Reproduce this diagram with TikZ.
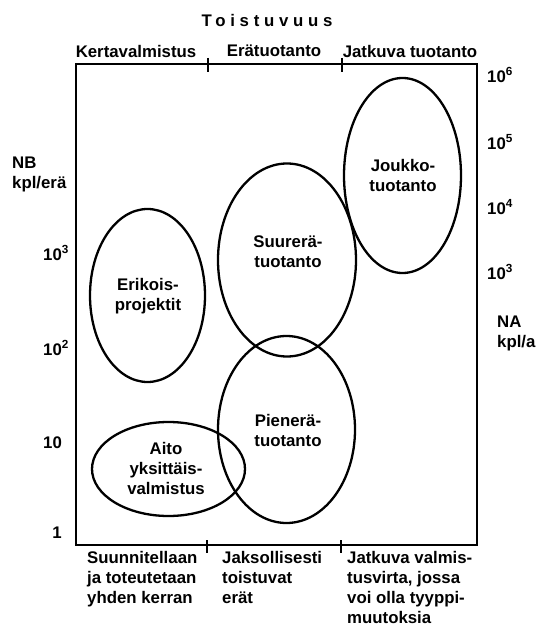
\documentclass[tikz,border=0pt]{standalone}
\usepackage{fontspec}
\setmainfont{Liberation Sans}
\newfontfamily\trackedfont[LetterSpace=28]{Liberation Sans}
\usetikzlibrary{shapes.geometric}

\tikzset{
  lbl/.style={font=\fontsize{16.8}{20}\selectfont\bfseries, inner sep=0pt, align=left},
  ctr/.style={font=\fontsize{16.8}{20}\selectfont\bfseries, inner sep=0pt, align=center},
  region/.style={draw, ellipse, line width=2.3pt, inner sep=0pt},
  frame/.style={line width=2.3pt},
  tick/.style={line width=2pt}
}

\begin{document}
\begin{tikzpicture}[x=1pt, y=-1pt]
  \useasboundingbox[fill=white] (0,0) rectangle (536,628);

  % title and column headings
  \node[ctr] (title) at (267,20) {\trackedfont\bfseries Toistuvuus};
  \node[ctr] (hKerta) at (136,51) {Kertavalmistus};
  \node[ctr] (hEra) at (274,51) {Erätuotanto};
  \node[ctr] (hJatk) at (410,51) {Jatkuva tuotanto};

  % frame
  \coordinate (tl) at (76,64);
  \coordinate (br) at (477,545);
  \draw[frame] (tl) rectangle (br);

  % column separators
  \coordinate (t1a) at (208,58);  \coordinate (t1b) at (208,72);
  \coordinate (t2a) at (342,58);  \coordinate (t2b) at (342,72);
  \coordinate (b1a) at (207,540); \coordinate (b1b) at (207,553);
  \coordinate (b2a) at (341,540); \coordinate (b2b) at (341,553);
  \draw[tick] (t1a) -- (t1b);
  \draw[tick] (t2a) -- (t2b);
  \draw[tick] (b1a) -- (b1b);
  \draw[tick] (b2a) -- (b2b);

  % left scale: NB
  \node[lbl, anchor=west] (nb) at (12,174) {NB\\kpl/erä};
  \node[lbl, anchor=west] (l3) at (43,253) {10\textsuperscript{3}};
  \node[lbl, anchor=west] (l2) at (43,348) {10\textsuperscript{2}};
  \node[lbl, anchor=west] (l1) at (43,443) {10};
  \node[lbl, anchor=east] (l0) at (62,533) {1};

  % right scale: NA
  \node[lbl, anchor=west] (r6) at (487,75) {10\textsuperscript{6}};
  \node[lbl, anchor=west] (r5) at (487,142) {10\textsuperscript{5}};
  \node[lbl, anchor=west] (r4) at (487,207) {10\textsuperscript{4}};
  \node[lbl, anchor=west] (r3) at (487,272) {10\textsuperscript{3}};
  \node[lbl, anchor=west] (na) at (497,333) {NA\\kpl/a};

  % production type regions
  \node[region, minimum width=115pt, minimum height=173pt] (erik) at (147.5,295.5) {};
  \node[region, minimum width=138pt, minimum height=193pt] (suur) at (287,260) {};
  \node[region, minimum width=137pt, minimum height=187pt] (pien) at (286.5,429.5) {};
  \node[region, minimum width=153pt, minimum height=94pt] (aito) at (168.5,469) {};
  \node[region, minimum width=117pt, minimum height=195pt] (jouk) at (402.5,175.5) {};

  \node[ctr] (erikT) at (148,296) {Erikois-\\projektit};
  \node[ctr] (suurT) at (288,252) {Suurerä-\\tuotanto};
  \node[ctr] (pienT) at (288,430) {Pienerä-\\tuotanto};
  \node[ctr] (aitoT) at (166,468) {Aito\\yksittäis-\\valmistus};
  \node[ctr] (joukT) at (403,175) {Joukko-\\tuotanto};

  % column descriptions
  \node[lbl, anchor=north west] (d1) at (87,551) {Suunnitellaan\\ja toteutetaan\\yhden kerran};
  \node[lbl, anchor=north west] (d2) at (222,551) {Jaksollisesti\\toistuvat\\erät};
  \node[lbl, anchor=north west] (d3) at (347,551) {Jatkuva valmis-\\tusvirta, jossa\\voi olla tyyppi-\\muutoksia};
\end{tikzpicture}
\end{document}
